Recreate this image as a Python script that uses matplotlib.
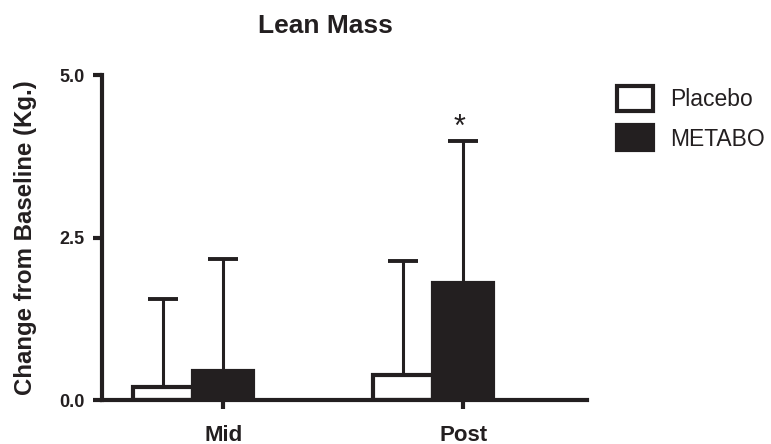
import matplotlib
matplotlib.use("Agg")
import matplotlib.pyplot as plt
import numpy as np
from matplotlib.patches import Patch

# ---- data ----
categories = ["Mid", "Post"]
series_names = ["Placebo", "METABO"]
placebo_mean = [0.21, 0.39]
placebo_sd = [1.35, 1.75]
metabo_mean = [0.45, 1.80]
metabo_sd = [1.72, 2.19]
yticks = [0.0, 2.5, 5.0]
ytick_labels = ["0.0", "2.5", "5.0"]
title = "Lean Mass"
ylabel = "Change from Baseline (Kg.)"
sig_marks = ["", "*"]

INK = "#231f20"
plt.rcParams["font.family"] = ["Liberation Sans", "DejaVu Sans"]

fig = plt.figure(figsize=(7.71, 4.44), dpi=100)
ax = fig.add_axes([102 / 771, 1 - 400.2 / 444, 485 / 771, 325.2 / 444])

x = np.arange(len(categories))
w = 0.25
lw = 3.0

ax.bar(x - w, placebo_mean, width=w, color="white", edgecolor=INK, linewidth=lw, zorder=2)
ax.bar(x, metabo_mean, width=w, color=INK, edgecolor=INK, linewidth=lw, zorder=3)

ekw = dict(fmt="none", ecolor=INK, elinewidth=2.2, capsize=10.8, capthick=2.8, zorder=1)
ax.errorbar(x - w, placebo_mean, yerr=[np.zeros(len(x)), placebo_sd], **ekw)
ax.errorbar(x, metabo_mean, yerr=[np.zeros(len(x)), metabo_sd], **ekw)

for xi, m, s, mark in zip(x, metabo_mean, metabo_sd, sig_marks):
    if mark:
        ax.annotate(mark, xy=(xi, m + s), xytext=(-3.0, 3.5), textcoords="offset points",
                    ha="center", va="baseline", fontsize=22, color=INK)

ax.set_xlim(-0.506, 1.515)
ax.set_ylim(0, 5.0)
ax.set_xticks(x)
ax.set_xticklabels(categories, fontsize=16, fontweight="bold", color=INK)
ax.set_yticks(yticks)
ax.set_yticklabels(ytick_labels, fontsize=13, fontweight="bold", color=INK)
ax.tick_params(axis="both", direction="out", length=6.5, width=lw, color=INK)
ax.tick_params(axis="y", pad=6)
ax.tick_params(axis="x", pad=11)

for side in ["top", "right"]:
    ax.spines[side].set_visible(False)
for side in ["left", "bottom"]:
    ax.spines[side].set_linewidth(lw)
    ax.spines[side].set_color(INK)
    ax.spines[side].set_capstyle("projecting")

fig.text(325 / 771, 1 - 33 / 444, title, ha="center", va="baseline",
         fontsize=19, fontweight="bold", color=INK)
fig.text(26 / 771, 1 - 238 / 444, ylabel, rotation=90, ha="center", va="center",
         fontsize=17.3, fontweight="bold", color=INK)

handles = [Patch(facecolor="white", edgecolor=INK, linewidth=lw),
           Patch(facecolor=INK, edgecolor=INK, linewidth=lw)]
fig.legend(handles, series_names, loc="upper left", bbox_to_anchor=(617 / 771, 1 - 86 / 444),
           frameon=False, fontsize=16.5, handlelength=1.57, handleheight=1.3,
           handletextpad=0.75, labelspacing=0.62, borderpad=0, borderaxespad=0,
           labelcolor=INK)

fig.savefig("out.png", dpi=100)
